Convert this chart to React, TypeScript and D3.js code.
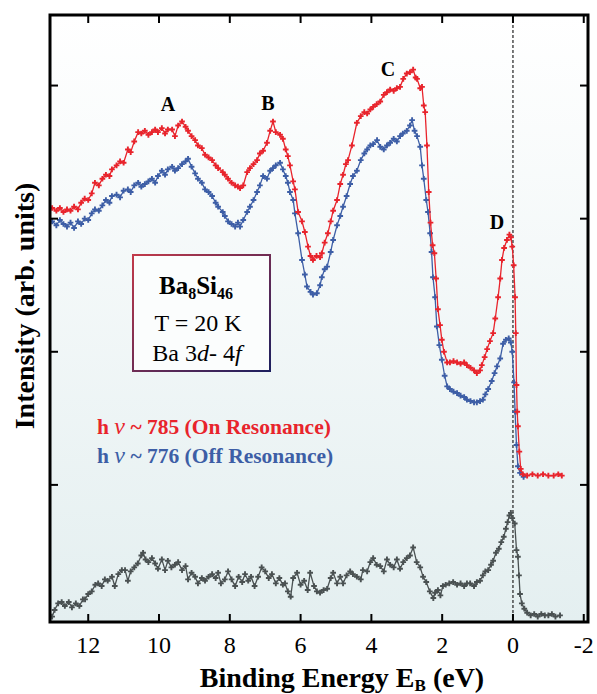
import React, { useEffect, useRef } from 'react';
import * as d3 from 'd3';

// binding energy (eV) / intensity (arb. units)
const onResonance: [number, number][] = [
  [13.02, 3.08], [12.9, 3.06], [12.8, 3.08], [12.7, 3.05], [12.6, 3.07], [12.5, 3.06], [12.4, 3.09],
  [12.29, 3.07], [12.2, 3.12], [12.1, 3.15], [12.0, 3.14], [11.9, 3.19], [11.81, 3.27], [11.7, 3.25],
  [11.6, 3.3], [11.5, 3.33], [11.4, 3.32], [11.33, 3.37], [11.2, 3.4], [11.1, 3.43], [11.0, 3.42],
  [10.88, 3.52], [10.8, 3.5], [10.7, 3.58], [10.59, 3.65], [10.5, 3.64], [10.4, 3.66], [10.3, 3.63],
  [10.2, 3.65], [10.11, 3.67], [10.03, 3.65], [9.92, 3.68], [9.83, 3.64], [9.75, 3.67], [9.63, 3.67],
  [9.55, 3.62], [9.46, 3.7], [9.35, 3.73], [9.25, 3.69], [9.18, 3.66], [9.08, 3.62], [8.98, 3.59],
  [8.9, 3.55], [8.79, 3.53], [8.7, 3.48], [8.6, 3.46], [8.5, 3.44], [8.4, 3.4], [8.33, 3.38],
  [8.2, 3.35], [8.14, 3.33], [8.05, 3.3], [7.95, 3.27], [7.85, 3.25], [7.77, 3.24], [7.71, 3.23],
  [7.62, 3.25], [7.51, 3.35], [7.43, 3.38], [7.33, 3.41], [7.23, 3.44], [7.15, 3.49], [7.06, 3.51],
  [6.95, 3.57], [6.86, 3.66], [6.78, 3.73], [6.7, 3.65], [6.58, 3.63], [6.5, 3.6], [6.42, 3.52],
  [6.36, 3.47], [6.3, 3.4], [6.21, 3.28], [6.16, 3.22], [6.07, 3.05], [5.96, 2.98], [5.88, 2.9],
  [5.79, 2.79], [5.72, 2.72], [5.65, 2.69], [5.55, 2.72], [5.45, 2.71], [5.4, 2.74], [5.32, 2.82],
  [5.23, 2.89], [5.15, 2.98], [5.08, 3.06], [4.97, 3.14], [4.88, 3.26], [4.8, 3.33], [4.72, 3.41],
  [4.66, 3.44], [4.55, 3.55], [4.41, 3.72], [4.3, 3.77], [4.2, 3.8], [4.12, 3.79], [4.03, 3.82],
  [3.95, 3.84], [3.85, 3.86], [3.75, 3.88], [3.65, 3.93], [3.56, 3.95], [3.47, 3.97], [3.37, 3.96],
  [3.28, 3.98], [3.19, 3.99], [3.1, 4.05], [3.0, 4.09], [2.91, 4.1], [2.82, 4.12], [2.75, 4.06],
  [2.71, 4.05], [2.62, 3.98], [2.57, 3.99], [2.52, 3.85], [2.48, 3.8], [2.43, 3.55], [2.38, 3.2],
  [2.33, 2.97], [2.27, 2.8], [2.22, 2.74], [2.17, 2.55], [2.12, 2.32], [2.06, 2.2], [2.01, 2.09],
  [1.95, 2.0], [1.86, 1.92], [1.78, 1.92], [1.68, 1.93], [1.58, 1.92], [1.48, 1.91], [1.38, 1.92],
  [1.3, 1.9], [1.2, 1.88], [1.1, 1.86], [1.02, 1.84], [0.93, 1.86], [0.88, 1.9], [0.8, 1.96],
  [0.73, 2.02], [0.65, 2.08], [0.56, 2.14], [0.5, 2.25], [0.42, 2.41], [0.36, 2.55], [0.31, 2.69],
  [0.25, 2.78], [0.17, 2.84], [0.1, 2.88], [0.06, 2.86], [0.02, 2.79], [-0.02, 2.65], [-0.06, 2.41],
  [-0.08, 2.14], [-0.1, 1.75], [-0.12, 1.55], [-0.14, 1.44], [-0.18, 1.25], [-0.22, 1.12],
  [-0.28, 1.08], [-0.4, 1.07], [-0.55, 1.08], [-0.7, 1.07], [-0.85, 1.08], [-1.0, 1.07],
  [-1.15, 1.07], [-1.28, 1.08], [-1.38, 1.07],
];

const offResonance: [number, number][] = [
  [13.02, 2.98], [12.9, 2.95], [12.8, 2.99], [12.7, 2.96], [12.6, 2.94], [12.5, 2.97], [12.4, 2.93],
  [12.29, 2.98], [12.2, 2.96], [12.1, 3.0], [12.0, 2.99], [11.9, 3.04], [11.81, 3.07], [11.7, 3.06],
  [11.6, 3.1], [11.5, 3.14], [11.4, 3.12], [11.33, 3.17], [11.2, 3.18], [11.1, 3.16], [11.0, 3.21],
  [10.88, 3.22], [10.8, 3.2], [10.7, 3.25], [10.59, 3.27], [10.5, 3.24], [10.4, 3.26], [10.3, 3.28],
  [10.2, 3.3], [10.11, 3.27], [10.03, 3.32], [9.92, 3.36], [9.83, 3.33], [9.75, 3.37], [9.63, 3.39],
  [9.55, 3.36], [9.46, 3.38], [9.35, 3.41], [9.25, 3.43], [9.18, 3.45], [9.08, 3.39], [8.98, 3.34],
  [8.9, 3.3], [8.79, 3.27], [8.7, 3.22], [8.6, 3.2], [8.5, 3.17], [8.4, 3.12], [8.33, 3.09],
  [8.2, 3.05], [8.14, 3.02], [8.05, 2.98], [7.95, 2.96], [7.85, 2.94], [7.77, 2.97], [7.71, 2.94],
  [7.62, 2.99], [7.51, 3.05], [7.43, 3.09], [7.33, 3.14], [7.23, 3.2], [7.15, 3.25], [7.06, 3.32],
  [6.95, 3.3], [6.86, 3.36], [6.78, 3.38], [6.7, 3.4], [6.58, 3.42], [6.5, 3.37], [6.42, 3.32],
  [6.36, 3.27], [6.3, 3.2], [6.21, 3.14], [6.16, 3.04], [6.07, 2.89], [5.96, 2.69], [5.88, 2.58],
  [5.82, 2.49], [5.72, 2.45], [5.65, 2.43], [5.54, 2.44], [5.45, 2.5], [5.4, 2.56], [5.32, 2.62],
  [5.25, 2.64], [5.15, 2.75], [5.08, 2.84], [4.97, 2.95], [4.88, 3.02], [4.8, 3.09], [4.7, 3.17],
  [4.6, 3.26], [4.52, 3.32], [4.41, 3.36], [4.3, 3.44], [4.2, 3.49], [4.12, 3.52], [4.03, 3.55],
  [3.95, 3.56], [3.84, 3.59], [3.75, 3.54], [3.65, 3.52], [3.56, 3.55], [3.47, 3.57], [3.37, 3.6],
  [3.28, 3.58], [3.19, 3.62], [3.11, 3.64], [3.0, 3.66], [2.91, 3.7], [2.85, 3.74], [2.78, 3.66],
  [2.71, 3.62], [2.62, 3.54], [2.57, 3.4], [2.52, 3.3], [2.45, 3.14], [2.4, 3.05], [2.34, 2.89],
  [2.3, 2.75], [2.26, 2.56], [2.2, 2.41], [2.15, 2.19], [2.08, 2.05], [2.01, 1.94], [1.93, 1.82],
  [1.86, 1.74], [1.78, 1.72], [1.68, 1.7], [1.58, 1.69], [1.48, 1.67], [1.38, 1.66], [1.3, 1.64],
  [1.2, 1.63], [1.1, 1.62], [1.02, 1.62], [0.93, 1.63], [0.85, 1.64], [0.78, 1.68], [0.7, 1.72],
  [0.6, 1.78], [0.52, 1.84], [0.45, 1.89], [0.36, 1.95], [0.28, 2.06], [0.2, 2.09], [0.12, 2.1],
  [0.06, 2.07], [0.02, 2.0], [-0.03, 1.77], [-0.06, 1.55], [-0.1, 1.3], [-0.14, 1.14],
  [-0.2, 1.09], [-0.3, 1.06],
];

const difference: [number, number][] = [
  [13.02, 0.01], [12.95, 0.06], [12.85, 0.11], [12.75, 0.12], [12.66, 0.09], [12.55, 0.12],
  [12.46, 0.08], [12.35, 0.11], [12.25, 0.09], [12.15, 0.14], [12.09, 0.14], [12.0, 0.18],
  [11.9, 0.2], [11.8, 0.25], [11.72, 0.26], [11.62, 0.24], [11.53, 0.29], [11.45, 0.28],
  [11.33, 0.31], [11.25, 0.24], [11.15, 0.33], [11.05, 0.36], [10.96, 0.36], [10.88, 0.28],
  [10.8, 0.35], [10.7, 0.38], [10.6, 0.41], [10.5, 0.47], [10.45, 0.49], [10.38, 0.44],
  [10.3, 0.42], [10.2, 0.45], [10.11, 0.41], [10.03, 0.37], [9.92, 0.44], [9.83, 0.36],
  [9.75, 0.43], [9.65, 0.38], [9.55, 0.4], [9.46, 0.42], [9.35, 0.36], [9.25, 0.39], [9.18, 0.29],
  [9.08, 0.34], [8.98, 0.31], [8.9, 0.26], [8.79, 0.3], [8.7, 0.28], [8.6, 0.31], [8.5, 0.33],
  [8.4, 0.3], [8.33, 0.34], [8.25, 0.26], [8.14, 0.29], [8.05, 0.35], [7.95, 0.29], [7.85, 0.24],
  [7.75, 0.31], [7.65, 0.27], [7.57, 0.33], [7.48, 0.28], [7.4, 0.31], [7.3, 0.24], [7.2, 0.31],
  [7.1, 0.38], [7.0, 0.35], [6.9, 0.3], [6.81, 0.33], [6.7, 0.26], [6.6, 0.3], [6.5, 0.25],
  [6.44, 0.26], [6.36, 0.2], [6.28, 0.16], [6.21, 0.3], [6.1, 0.34], [6.0, 0.25], [5.9, 0.28],
  [5.8, 0.21], [5.73, 0.34], [5.62, 0.24], [5.54, 0.2], [5.45, 0.19], [5.35, 0.21], [5.25, 0.22],
  [5.15, 0.3], [5.08, 0.34], [4.97, 0.26], [4.88, 0.31], [4.8, 0.26], [4.7, 0.32], [4.6, 0.35],
  [4.52, 0.33], [4.41, 0.31], [4.3, 0.29], [4.24, 0.36], [4.12, 0.35], [4.03, 0.42], [3.95, 0.45],
  [3.85, 0.4], [3.75, 0.39], [3.65, 0.35], [3.56, 0.44], [3.47, 0.4], [3.37, 0.38], [3.28, 0.44],
  [3.19, 0.37], [3.1, 0.42], [3.0, 0.45], [2.91, 0.47], [2.82, 0.53], [2.72, 0.42], [2.62, 0.38],
  [2.54, 0.31], [2.45, 0.27], [2.35, 0.2], [2.25, 0.15], [2.2, 0.19], [2.12, 0.21], [2.05, 0.17],
  [1.98, 0.24], [1.9, 0.25], [1.8, 0.26], [1.69, 0.27], [1.58, 0.25], [1.48, 0.26], [1.38, 0.24],
  [1.3, 0.26], [1.21, 0.26], [1.1, 0.24], [1.02, 0.27], [0.93, 0.28], [0.85, 0.32], [0.78, 0.35],
  [0.7, 0.36], [0.62, 0.4], [0.56, 0.43], [0.48, 0.49], [0.4, 0.52], [0.33, 0.57], [0.26, 0.61],
  [0.2, 0.67], [0.15, 0.72], [0.1, 0.77], [0.06, 0.79], [0.02, 0.75], [-0.05, 0.71], [-0.1, 0.51],
  [-0.14, 0.46], [-0.17, 0.32], [-0.2, 0.18], [-0.25, 0.11], [-0.32, 0.07], [-0.4, 0.04],
  [-0.5, 0.02], [-0.6, 0.03], [-0.7, 0.01], [-0.8, 0.03], [-0.9, 0.02], [-1.0, 0.02],
  [-1.1, 0.03], [-1.2, 0.01], [-1.33, 0.02],
];

const xTicks = [12, 10, 8, 6, 4, 2, 0, -2];
const xTickLabels = ['12', '10', '8', '6', '4', '2', '0', '-2'];
const yTicks = [1, 2, 3, 4];
const peakLabels = ['A', 'B', 'C', 'D'];
const peakPositions: [number, number][] = [[9.75, 3.81], [6.92, 3.82], [3.53, 4.07], [0.45, 2.92]];

const App = () => {
  const ref = useRef<SVGSVGElement>(null);

  useEffect(() => {
    const width = 597;
    const height = 694;
    const m = { left: 50, right: 9, top: 15, bottom: 72 };
    const serif = '"Liberation Serif", "Times New Roman", serif';

    const svg = d3.select(ref.current);
    svg.selectAll('*').remove();

    const x = d3.scaleLinear().domain([13.08, -2.12]).range([m.left, width - m.right]);
    const y = d3.scaleLinear().domain([-0.03, 4.53]).range([height - m.bottom, m.top]);

    const defs = svg.append('defs');
    const bg = defs.append('linearGradient').attr('id', 'bg').attr('x1', 0).attr('y1', 0).attr('x2', 0).attr('y2', 1);
    bg.append('stop').attr('offset', '0%').attr('stop-color', '#ffffff');
    bg.append('stop').attr('offset', '100%').attr('stop-color', '#e4eff0');
    const boxGrad = defs.append('linearGradient').attr('id', 'boxgrad').attr('x1', 0).attr('y1', 0).attr('x2', 1).attr('y2', 1);
    boxGrad.append('stop').attr('offset', '0%').attr('stop-color', '#c23a4a');
    boxGrad.append('stop').attr('offset', '100%').attr('stop-color', '#1c1f5e');

    svg.append('rect')
       .attr('x', m.left).attr('y', m.top)
       .attr('width', width - m.left - m.right)
       .attr('height', height - m.top - m.bottom)
       .attr('fill', 'url(#bg)');

    // Fermi level marker
    svg.append('line')
       .attr('x1', x(0)).attr('x2', x(0))
       .attr('y1', m.top).attr('y2', height - m.bottom)
       .attr('stroke', '#222').attr('stroke-width', 1.2)
       .attr('stroke-dasharray', '3,2');

    const line = d3.line<[number, number]>().x(d => x(d[0])).y(d => y(d[1]));
    const cross = d3.symbol().type(d3.symbolCross).size(18);

    const drawSeries = (data: [number, number][], color: string) => {
      const g = svg.append('g');
      g.append('path')
       .datum(data)
       .attr('d', line)
       .attr('fill', 'none')
       .attr('stroke', color)
       .attr('stroke-width', 1.3);
      g.selectAll('path.pt')
       .data(data)
       .enter()
       .append('path')
       .attr('class', 'pt')
       .attr('d', cross)
       .attr('transform', d => `translate(${x(d[0])},${y(d[1])})`)
       .attr('fill', color);
    };

    drawSeries(difference, '#4a5152');
    drawSeries(offResonance, '#3d5ea6');
    drawSeries(onResonance, '#e8242c');

    // frame + inward ticks on all sides
    const tickLen = 8;
    const axes = svg.append('g').attr('stroke', '#000').attr('stroke-width', 2);
    xTicks.forEach(t => {
      axes.append('line').attr('x1', x(t)).attr('x2', x(t)).attr('y1', height - m.bottom).attr('y2', height - m.bottom - tickLen);
      axes.append('line').attr('x1', x(t)).attr('x2', x(t)).attr('y1', m.top).attr('y2', m.top + tickLen);
    });
    yTicks.forEach(t => {
      axes.append('line').attr('x1', m.left).attr('x2', m.left + tickLen).attr('y1', y(t)).attr('y2', y(t));
      axes.append('line').attr('x1', width - m.right).attr('x2', width - m.right - tickLen).attr('y1', y(t)).attr('y2', y(t));
    });
    svg.append('rect')
       .attr('x', m.left).attr('y', m.top)
       .attr('width', width - m.left - m.right)
       .attr('height', height - m.top - m.bottom)
       .attr('fill', 'none').attr('stroke', '#000').attr('stroke-width', 3);

    svg.selectAll('text.xt')
       .data(xTicks)
       .enter()
       .append('text')
       .attr('class', 'xt')
       .attr('x', d => x(d))
       .attr('y', 653)
       .attr('text-anchor', 'middle')
       .style('font-family', serif)
       .style('font-size', '24px')
       .text((d, i) => xTickLabels[i]);

    const xl = svg.append('text')
       .attr('x', 342).attr('y', 687)
       .attr('text-anchor', 'middle')
       .style('font-family', serif)
       .style('font-size', '28px')
       .style('font-weight', 'bold');
    xl.append('tspan').text('Binding Energy  E');
    xl.append('tspan').attr('dy', 4).style('font-size', '17px').text('B');
    xl.append('tspan').attr('dy', -4).text(' (eV)');

    svg.append('text')
       .attr('transform', `translate(34, ${306}) rotate(-90)`)
       .attr('text-anchor', 'middle')
       .style('font-family', serif)
       .style('font-size', '28px')
       .style('font-weight', 'bold')
       .text('Intensity (arb. units)');

    svg.selectAll('text.peak')
       .data(peakLabels)
       .enter()
       .append('text')
       .attr('class', 'peak')
       .attr('x', (d, i) => x(peakPositions[i][0]))
       .attr('y', (d, i) => y(peakPositions[i][1]))
       .attr('text-anchor', 'middle')
       .style('font-family', serif)
       .style('font-size', '20px')
       .style('font-weight', 'bold')
       .text(d => d);

    // sample box
    svg.append('rect')
       .attr('x', 133).attr('y', 255).attr('width', 137).attr('height', 116)
       .attr('fill', '#fbfdfd')
       .attr('stroke', 'url(#boxgrad)').attr('stroke-width', 2);
    const t1 = svg.append('text').attr('x', 196).attr('y', 294).attr('text-anchor', 'middle')
       .style('font-family', serif).style('font-size', '25px').style('font-weight', 'bold');
    t1.append('tspan').text('Ba');
    t1.append('tspan').attr('dy', 5).style('font-size', '16px').text('8');
    t1.append('tspan').attr('dy', -5).text('Si');
    t1.append('tspan').attr('dy', 5).style('font-size', '16px').text('46');
    svg.append('text').attr('x', 198).attr('y', 331).attr('text-anchor', 'middle')
       .style('font-family', serif).style('font-size', '24px').text('T = 20 K');
    const t3 = svg.append('text').attr('x', 197).attr('y', 361).attr('text-anchor', 'middle')
       .style('font-family', serif).style('font-size', '24px');
    t3.append('tspan').text('Ba 3');
    t3.append('tspan').style('font-style', 'italic').text('d');
    t3.append('tspan').text('- 4');
    t3.append('tspan').style('font-style', 'italic').text('f');

    // excitation energies
    const legend = [
      { label: '785 (On Resonance)', color: '#e8242c', yy: 434 },
      { label: '776 (Off Resonance)', color: '#3d5ea6', yy: 463 },
    ];
    legend.forEach(l => {
      const t = svg.append('text').attr('x', 97).attr('y', l.yy)
         .style('font-family', serif).style('font-size', '21.5px').style('font-weight', 'bold')
         .attr('fill', l.color);
      t.append('tspan').text('h ');
      t.append('tspan').style('font-weight', 'normal').style('font-style', 'italic').style('font-size', '24px').text('\u03bd');
      t.append('tspan').text('  ~ ' + l.label);
    });
  }, []);

  return (
    <svg ref={ref} width={597} height={694} style={{ position: 'absolute', left: 0, top: 0 }} />
  );
};

export default App;
